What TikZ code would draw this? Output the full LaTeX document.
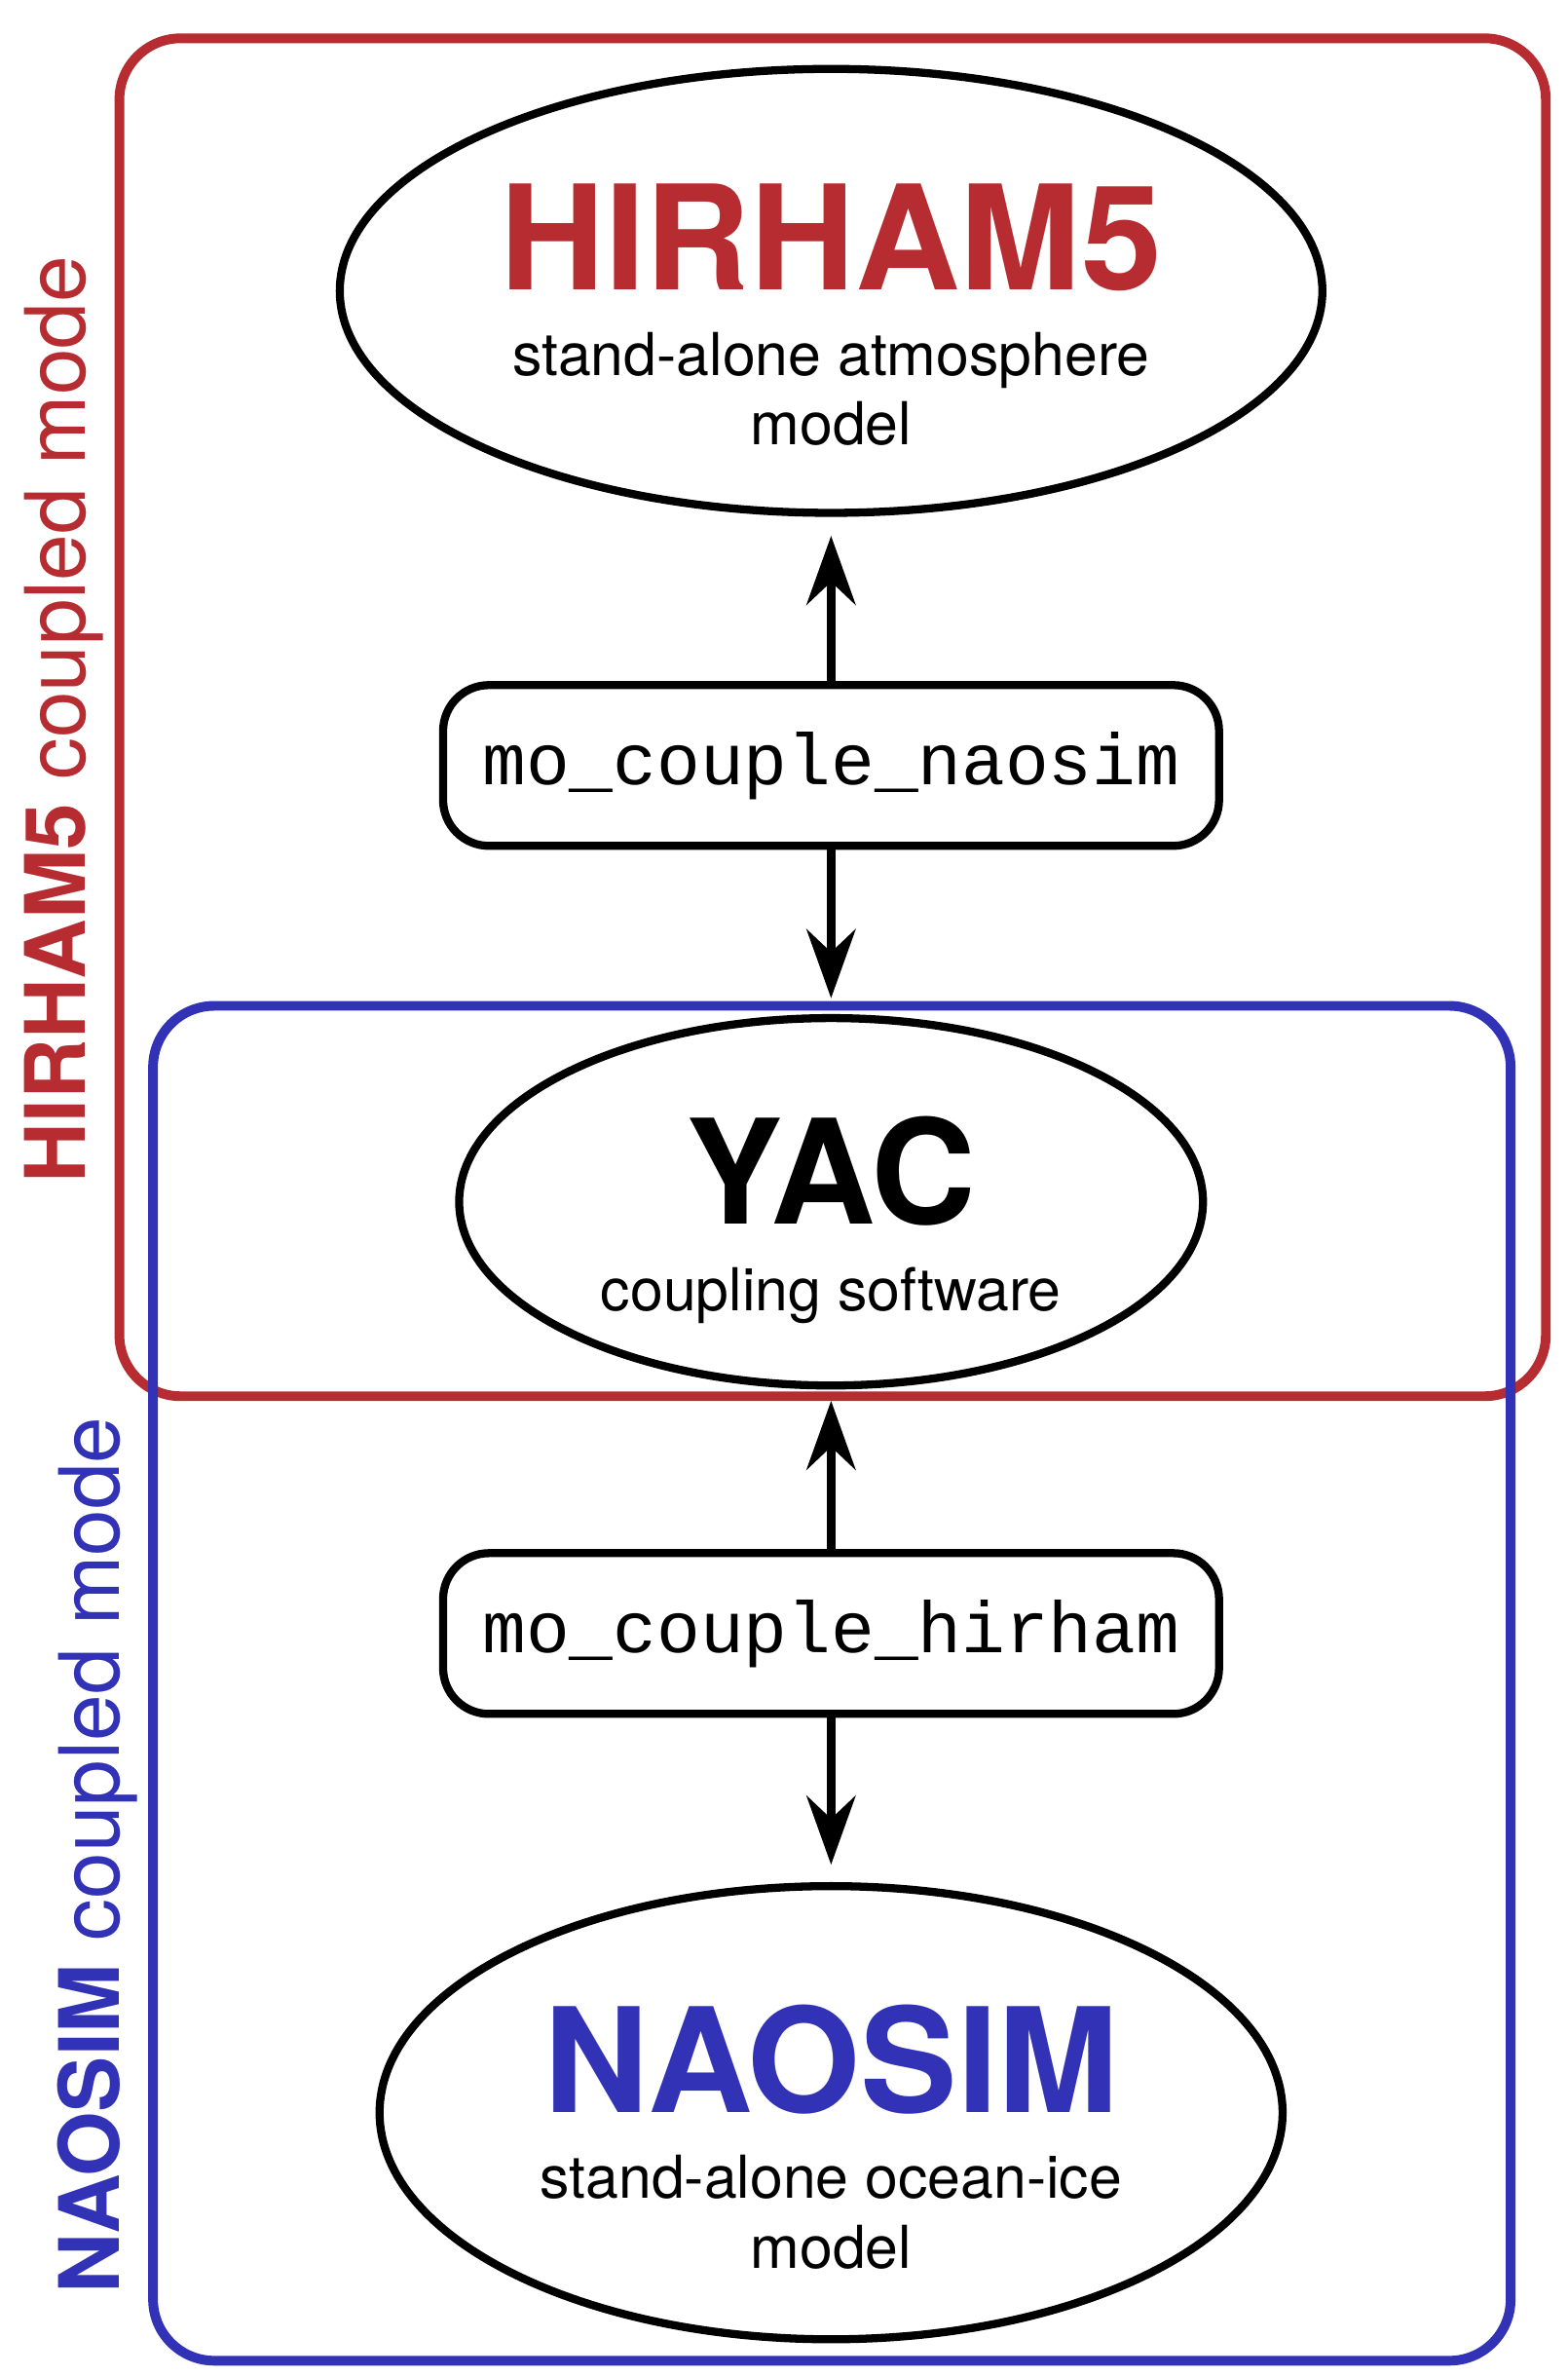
\documentclass[tikz,border=0pt]{standalone}
\usepackage{fontspec}
\setmainfont{TeX Gyre Heros}
\setmonofont{Liberation Mono}
\usetikzlibrary{arrows.meta,positioning,shapes.geometric}
\definecolor{hirred}{RGB}{182,44,48}
\definecolor{naoblue}{RGB}{50,50,182}
\begin{document}
\begin{tikzpicture}[x=1cm,y=-1cm,
        model/.style={draw,ellipse,line width=1.5pt,inner sep=0pt},
        routine/.style={draw,rounded corners=3mm,line width=1.5pt,minimum width=5.07cm,minimum height=1.05cm,font=\ttfamily\fontsize{13.5}{13.5}\selectfont},
        mode/.style={rounded corners=4mm,line width=1.8pt},
        link/.style={line width=1.6pt,-{Stealth[length=4.5mm,width=3.2mm,inset=1.5mm]}}]
\useasboundingbox (0,0) rectangle (10.24,15.52);
\draw[mode,hirred] (0.78,0.25) rectangle (10.10,9.12); % HIRHAM5 frame
\draw[mode,naoblue] (1.00,6.57) rectangle (9.87,15.42); % NAOSIM frame
\node[model,minimum width=6.42cm,minimum height=2.90cm] (H) at (5.43,1.90) {};
\node[model,minimum width=4.86cm,minimum height=2.40cm] (Y) at (5.43,7.85) {};
\node[model,minimum width=5.90cm,minimum height=2.96cm] (N) at (5.43,13.80) {};
\node[font=\bfseries\fontsize{27}{27}\selectfont,text=hirred] (Ht) at (5.43,1.55) {HIRHAM5};
\node[align=center,font=\fontsize{11}{13}\selectfont,below=0.02cm of Ht] (Hs) {stand-alone atmosphere\\model};
\node[font=\bfseries\fontsize{27}{27}\selectfont] (Yt) at (5.43,7.65) {YAC};
\node[font=\fontsize{11}{13}\selectfont,below=0.02cm of Yt] (Ys) {coupling software};
\node[font=\bfseries\fontsize{27}{27}\selectfont,text=naoblue] (Nt) at (5.43,13.45) {NAOSIM};
\node[align=center,font=\fontsize{11}{13}\selectfont,below=0.02cm of Nt] (Ns) {stand-alone ocean-ice\\model};
\node[routine] (R1) at (5.43,5.00) {mo\_couple\_naosim};
\node[routine] (R2) at (5.43,10.67) {mo\_couple\_hirham};
\coordinate (H1) at (5.43,3.50);
\coordinate (Y1) at (5.43,6.52);
\coordinate (Y2) at (5.43,9.15);
\coordinate (N1) at (5.43,12.18);
\draw[link] (R1) -- (H1);
\draw[link] (R1) -- (Y1);
\draw[link] (R2) -- (Y2);
\draw[link] (R2) -- (N1);
\node[rotate=90,text=hirred,font=\fontsize{15.5}{15.5}\selectfont] (Hm) at (0.42,4.70) {\textbf{HIRHAM5} coupled mode};
\node[rotate=90,text=naoblue,font=\fontsize{15.5}{15.5}\selectfont] (Nm) at (0.64,12.12) {\textbf{NAOSIM} coupled mode};
\end{tikzpicture}
\end{document}
